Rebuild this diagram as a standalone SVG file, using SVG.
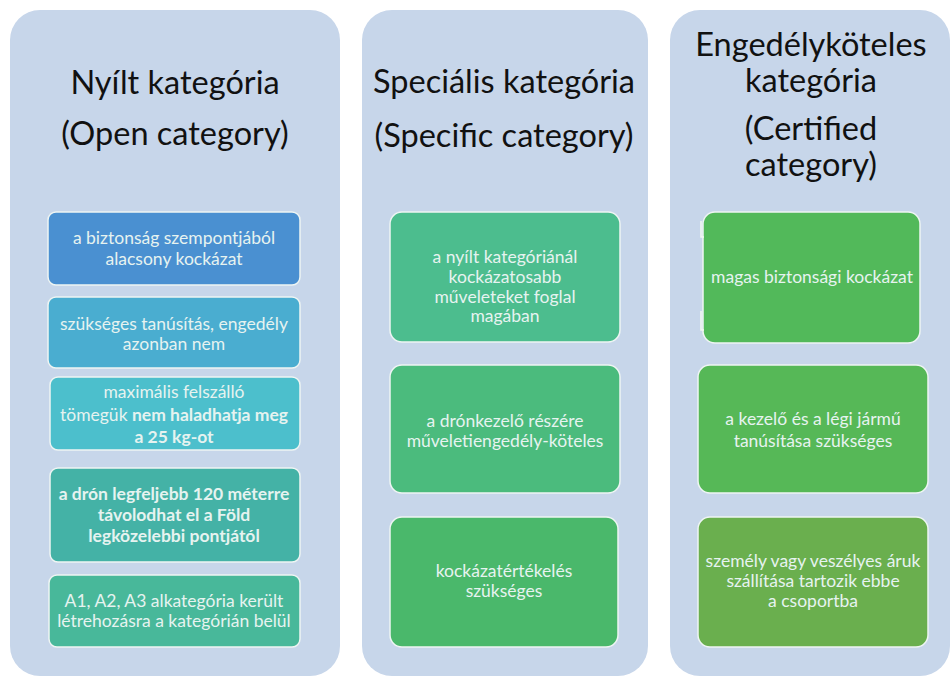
<svg xmlns="http://www.w3.org/2000/svg" width="952" height="680" viewBox="0 0 952 680">
<style>
.panel{fill:#c7d6ea;}
.box{stroke:#eef5f3;stroke-width:1.5;}
.title{font-family:Lato,"Open Sans","DejaVu Sans",sans-serif;font-size:32.5px;fill:#111;text-anchor:middle;}
.t{font-family:Lato,"Open Sans","DejaVu Sans",sans-serif;font-size:17.5px;fill:#e6f3f0;text-anchor:middle;}
.b{font-weight:bold;}
</style>
<rect width="952" height="680" fill="#ffffff"/>
<g id="panel-open">
<rect class="panel" x="10" y="10" width="330" height="666" rx="30"/>
<text class="title" x="175" y="94">Nyílt kategória</text>
<text class="title" x="175" y="145">(Open category)</text>
</g>
<g id="panel-specific">
<rect class="panel" x="362" y="10" width="286" height="666" rx="30"/>
<text class="title" x="504" y="93">Speciális kategória</text>
<text class="title" x="504" y="147">(Specific category)</text>
</g>
<g id="panel-certified">
<rect class="panel" x="670" y="10" width="280" height="666" rx="30"/>
<text class="title" x="811" y="56">Engedélyköteles</text>
<text class="title" x="811" y="92">kategória</text>
<text class="title" x="811" y="140">(Certified</text>
<text class="title" x="811" y="176">category)</text>
</g>
<g id="o1"><rect class="box" x="48" y="212" width="252" height="73" rx="8" fill="#4a90d1"/>
<text class="t" x="174" y="244">a biztonság szempontjából</text><text class="t" x="174" y="265">alacsony kockázat</text></g>
<g id="o2"><rect class="box" x="48" y="297" width="252" height="71" rx="8" fill="#4aadd0"/>
<text class="t" x="174" y="330">szükséges tanúsítás, engedély</text><text class="t" x="174" y="350">azonban nem</text></g>
<g id="o3"><rect class="box" x="50" y="377" width="250" height="73" rx="8" fill="#4cbfcc"/>
<text class="t" x="174" y="398">maximális felszálló</text>
<text class="t" x="174" y="421">tömegük <tspan class="b">nem haladhatja meg</tspan></text>
<text class="t b" x="174" y="443">a 25 kg-ot</text></g>
<g id="o4"><rect class="box" x="50" y="468" width="250" height="94" rx="8" fill="#44b2a6"/>
<text class="t b" x="174" y="500">a drón legfeljebb 120 méterre</text>
<text class="t b" x="174" y="521">távolodhat el a Föld</text>
<text class="t b" x="174" y="542">legközelebbi pontjától</text></g>
<g id="o5"><rect class="box" x="49" y="575" width="251" height="72" rx="8" fill="#48b89a"/>
<text class="t" x="174" y="607">A1, A2, A3 alkategória került</text>
<text class="t" x="174" y="627">létrehozásra a kategórián belül</text></g>
<g id="s1"><rect class="box" x="390" y="212" width="230" height="130" rx="12" fill="#4cbd8e"/>
<text class="t" x="505" y="263">a nyílt kategóriánál</text>
<text class="t" x="505" y="283">kockázatosabb</text>
<text class="t" x="505" y="303">műveleteket foglal</text>
<text class="t" x="505" y="322">magában</text></g>
<g id="s2"><rect class="box" x="390" y="365" width="230" height="128" rx="12" fill="#4bbb7d"/>
<text class="t" x="505" y="427">a drónkezelő részére</text>
<text class="t" x="505" y="447">műveletiengedély-köteles</text></g>
<g id="s3"><rect class="box" x="390" y="517" width="228" height="130" rx="12" fill="#4ab86b"/>
<text class="t" x="504" y="577">kockázatértékelés</text>
<text class="t" x="504" y="597">szükséges</text></g>
<g id="c1"><rect class="box" x="703" y="212" width="217" height="131" rx="12" fill="#52b95a"/>
<path d="M701 221v16h3M701 311v19h3" stroke="#f2f8f2" stroke-width="1.5" fill="none"/>
<text class="t" x="812" y="283">magas biztonsági kockázat</text></g>
<g id="c2"><rect class="box" x="698" y="365" width="230" height="128" rx="12" fill="#56b857"/>
<text class="t" x="813" y="425">a kezelő és a légi jármű</text>
<text class="t" x="813" y="447">tanúsítása szükséges</text></g>
<g id="c3"><rect class="box" x="698" y="517" width="230" height="130" rx="12" fill="#6aaf4e"/>
<text class="t" x="813" y="567">személy vagy veszélyes áruk</text>
<text class="t" x="813" y="587">szállítása tartozik ebbe</text>
<text class="t" x="813" y="607">a csoportba</text></g>
<g id="connectors"></g>
</svg>
